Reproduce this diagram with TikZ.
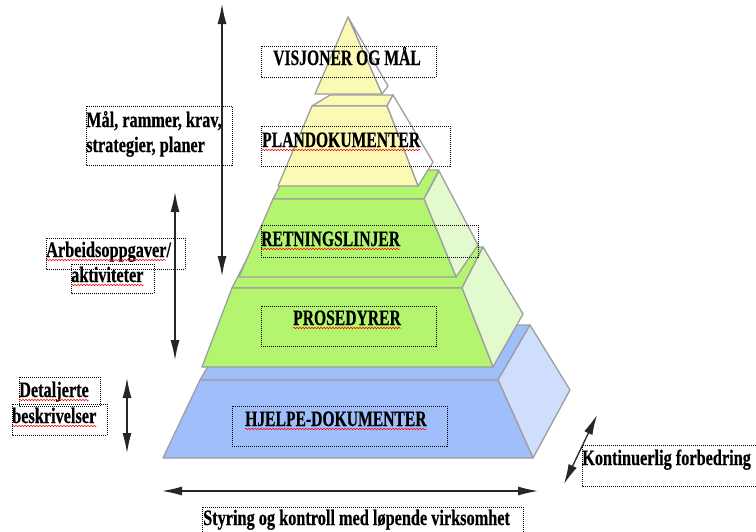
\documentclass[tikz,border=0pt]{standalone}
\usepackage{fontspec}
\setmainfont{Liberation Serif}
\newfontfamily\capsfont{Liberation Serif}[FakeStretch=0.71, FakeBold=0.5]
\newfontfamily\lowfont{Liberation Serif}[FakeStretch=0.74, FakeBold=0.5]
\usetikzlibrary{arrows.meta,decorations.pathmorphing}

\definecolor{yelfront}{RGB}{250,250,180}
\definecolor{grnfront}{RGB}{180,245,112}
\definecolor{grnside}{RGB}{226,250,206}
\definecolor{blufront}{RGB}{160,190,250}
\definecolor{bluside}{RGB}{206,222,252}
\definecolor{faceedge}{RGB}{158,158,158}

\tikzset{
  face/.style={draw=faceedge, line width=1.3pt, line join=round},
  lbl/.style={inner sep=0pt, anchor=base west, font=\capsfont\fontsize{22}{26}\selectfont\bfseries},
  lblsmall/.style={inner sep=0pt, anchor=base west, font=\lowfont\fontsize{22}{26}\selectfont\bfseries},
  dotbox/.style={draw=black, line width=0.8pt, dash pattern=on 1pt off 1pt},
  dblarrow/.style={draw=black!85, line width=1.3pt,
    {Latex[length=20pt,width=9pt]}-{Latex[length=20pt,width=9pt]}},
  wavy/.style={draw=red, line width=0.5pt, decorate,
    decoration={snake, amplitude=0.8pt, segment length=3pt}}
}

\begin{document}
\begin{tikzpicture}[x=1pt, y=-1pt]
\useasboundingbox (0,0) rectangle (756,531);

% ---- bottom tier (blue)
\path[face, fill=blufront] (200,380) -- (498,380) -- (530,325) -- (232,325) -- cycle;
\path[face, fill=bluside]  (498,380) -- (530,325) -- (570,390) -- (533,458) -- cycle;
\path[face, fill=blufront] (200,380) -- (498,380) -- (533,458) -- (163,458) -- cycle;

% ---- lower green tier
\path[face, fill=grnfront] (232,288) -- (462,288) -- (483,247) -- (253,247) -- cycle;
\path[face, fill=grnside]  (462,288) -- (483,247) -- (523,314) -- (493,367) -- cycle;
\path[face, fill=grnfront] (232,288) -- (462,288) -- (493,367) -- (202,367) -- cycle;

% ---- upper green tier
\path[face, fill=grnfront] (273,199) -- (424,199) -- (439,170) -- (288,170) -- cycle;
\path[face, fill=grnside]  (424,199) -- (439,171) -- (478,245) -- (456,277) -- cycle;
\path[face, fill=grnfront] (273,199) -- (424,199) -- (456,277) -- (239,277) -- cycle;

% ---- lower yellow tier
\path[face, fill=yelfront] (312,106) -- (387,106) -- (393,95) -- (330,95) -- cycle;
\path[face, fill=white]    (387,106) -- (393,95) -- (433,162) -- (418,186) -- cycle;
\path[face, fill=yelfront] (312,106) -- (387,106) -- (418,186) -- (278,186) -- cycle;

% ---- top (yellow)
\path[face, fill=white]    (348,17) -- (388,86) -- (382,94) -- cycle;
\path[face, fill=yelfront] (348,17) -- (382,94) -- (315,94) -- cycle;

% ---- text boxes
\draw[dotbox] (261,46)  rectangle (436,77);
\draw[dotbox] (261,126) rectangle (450,166);
\draw[dotbox] (261,225) rectangle (478,257);
\draw[dotbox] (261,306) rectangle (436,346);
\draw[dotbox] (232,406) rectangle (447,446);
\draw[dotbox] (202,507) rectangle (523,536);
\draw[dotbox] (582,445) rectangle (760,486);
\draw[dotbox] (86,106)  rectangle (232,165);
\draw[dotbox] (46,238)  rectangle (185,269);
\draw[dotbox] (71,264)  rectangle (154,293);
\draw[dotbox] (19,377)  rectangle (100,406);
\draw[dotbox] (12,404)  rectangle (107,435);

% ---- labels
\node[lbl] (visjon) at (273,65)  {VISJONER OG MÅL};
\node[lbl] (plan)   at (262,147) {PLANDOKUMENTER};
\node[lbl] (retn)   at (261,246) {RETNINGSLINJER};
\node[lbl] (pros)   at (293,325) {PROSEDYRER};
\node[lbl] (hjelp)  at (245,426) {HJELPE-DOKUMENTER};
\node[lblsmall] (styr) at (203,525) {Styring og kontroll med løpende virksomhet};
\node[lblsmall] (kont) at (582,465) {Kontinuerlig forbedring};
\node[lblsmall] (malA) at (86,127) {Mål, rammer, krav,};
\node[lblsmall] (malB) at (86,152) {strategier, planer};
\node[lblsmall] (arbA) at (46,257) {Arbeidsoppgaver/};
\node[lblsmall] (arbB) at (71,282) {aktiviteter};
\node[lblsmall] (detA) at (19,397) {Detaljerte};
\node[lblsmall] (detB) at (12,423) {beskrivelser};

% ---- spelling marks
\foreach \n in {plan,retn,pros,hjelp,arbB,detA,detB}
  \draw[wavy] ([yshift=-3pt]\n.base west) -- ([yshift=-3pt]\n.base east);
\draw[wavy] ([yshift=-3pt]arbA.base west) -- ([yshift=-3pt,xshift=-5pt]arbA.base east);

% ---- arrows
\coordinate (a1t) at (222,4);   \coordinate (a1b) at (222,276);
\coordinate (a2t) at (175,192); \coordinate (a2b) at (175,360);
\coordinate (a3t) at (127,378); \coordinate (a3b) at (127,453);
\coordinate (a4l) at (162,491); \coordinate (a4r) at (538,491);
\coordinate (a5t) at (597,415); \coordinate (a5b) at (564,484);
\draw[dblarrow] (a1t) -- (a1b);
\draw[dblarrow] (a2t) -- (a2b);
\draw[dblarrow] (a3t) -- (a3b);
\draw[dblarrow] (a4l) -- (a4r);
\draw[dblarrow] (a5t) -- (a5b);
\end{tikzpicture}
\end{document}
